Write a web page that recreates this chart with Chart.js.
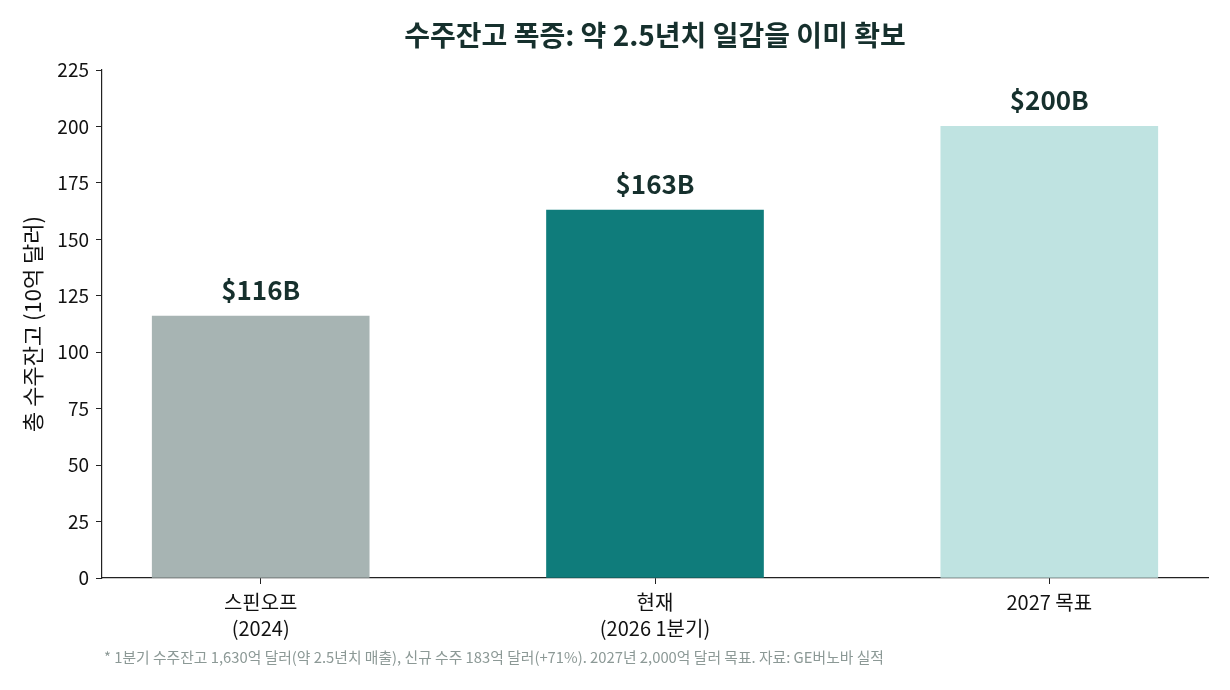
<!DOCTYPE html>
<html><head><meta charset="utf-8">
<script src="https://cdn.jsdelivr.net/npm/chart.js@4/dist/chart.umd.min.js"></script>
<style>html,body{margin:0;padding:0;background:#fff;}#wrap{width:1230px;height:690px;}</style>
</head><body><div id="wrap"><canvas id="c" width="1230" height="690"></canvas></div>
<script>
const categories = [["스핀오프","(2024)"],["현재","(2026 1분기)"],["2027 목표"]];
const backlogValues = [116, 163, 200];
const valueLabels = ["$116B","$163B","$200B"];
const barColors = ["#a7b4b3","#0f7c7b","#bfe3e1"];
const yTicks = [0,25,50,75,100,125,150,175,200,225];
const titleText = "수주잔고 폭증: 약 2.5년치 일감을 이미 확보";
const yTitle = "총 수주잔고 (10억 달러)";
const footnote = "* 1분기 수주잔고 1,630억 달러(약 2.5년치 매출), 신규 수주 183억 달러(+71%). 2027년 2,000억 달러 목표. 자료: GE버노바 실적";

const FONT = "'Noto Sans CJK KR','Noto Sans',sans-serif";
const DARK = "#16302d";

const overlay = {
  id:'overlay',
  afterDatasetsDraw(chart){
    const ctx = chart.ctx, xs = chart.scales.x, ys = chart.scales.y, ca = chart.chartArea;
    ctx.save();
    ctx.fillStyle = DARK;
    ctx.font = "bold 26px " + FONT;
    ctx.textAlign = 'center'; ctx.textBaseline = 'alphabetic';
    backlogValues.forEach((v,i)=>{
      ctx.fillText(valueLabels[i], xs.getPixelForValue(i), ys.getPixelForValue(v) - 16);
    });
    ctx.font = "bold 28px " + FONT;
    ctx.fillText(titleText, (ca.left+ca.right)/2, 46);
    ctx.font = "14.8px " + FONT;
    ctx.fillStyle = "#8c9996";
    ctx.textAlign = 'left';
    ctx.textBaseline = 'middle';
    ctx.fillText(footnote, 104, 657);
    ctx.restore();
  }
};

new Chart(document.getElementById('c'), {
  type:'bar',
  data:{
    datasets:[{
      data: backlogValues.map((v,i)=>({x:i,y:v})),
      backgroundColor: barColors,
      barThickness: 217,
      borderWidth:0
    }]
  },
  options:{
    responsive:false,
    animation:false,
    layout:{padding:{top:70,right:22,left:0,bottom:0}},
    plugins:{legend:{display:false},tooltip:{enabled:false},title:{display:false}},
    scales:{
      x:{
        type:'linear', min:-0.4025, max:2.4025, offset:false,
        afterBuildTicks(s){ s.ticks = categories.map((c,i)=>({value:i})); },
        afterFit(s){ s.height = 112; },
        grid:{display:true, offset:false, drawOnChartArea:false, tickLength:6, color:'#222', tickWidth:1},
        border:{display:true,color:'#222',width:1.2},
        ticks:{
          callback:(v)=>categories[v],
          color:'#111', font:{family:FONT,size:20,lineHeight:1.3}, padding:5, maxRotation:0, autoSkip:false
        }
      },
      y:{
        min:0,max:225,
        afterBuildTicks(s){ s.ticks = yTicks.map(v=>({value:v})); },
        afterFit(s){ s.width = 102; },
        grid:{display:true, drawOnChartArea:false, tickLength:6, color:'#222'},
        border:{display:true,color:'#222',width:1.2},
        ticks:{color:'#111', font:{family:FONT,size:19}, padding:7},
        title:{display:true,text:yTitle,color:'#111',font:{family:FONT,size:22},padding:{top:19,bottom:8}}
      }
    }
  },
  plugins:[overlay]
});
</script></body></html>
